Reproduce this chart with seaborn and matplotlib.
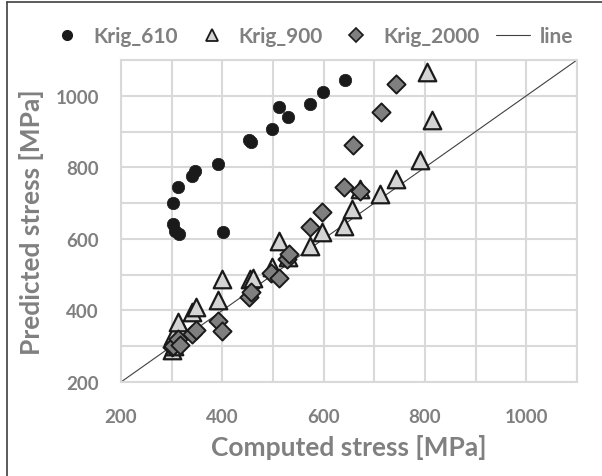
import pandas as pd
import seaborn as sns
import matplotlib.pyplot as plt
from matplotlib.lines import Line2D

# values (computed vs predicted stress, MPa)
k610_x = [302, 303, 307, 312, 315, 340, 347, 392, 401, 453, 457, 498, 512, 529, 573, 598, 643]
k610_y = [700, 643, 623, 744, 615, 776, 790, 809, 620, 877, 872, 908, 969, 940, 978, 1010, 1043]

k900_x = [300, 302, 305, 312, 340, 348, 392, 400, 455, 460, 498, 511, 530, 574, 597, 641, 656, 672, 712, 743, 791, 803, 814]
k900_y = [290, 329, 300, 367, 395, 410, 429, 488, 488, 492, 522, 595, 550, 580, 618, 635, 684, 739, 725, 767, 820, 1067, 933]

k2000_x = [300, 302, 312, 317, 340, 348, 392, 400, 453, 457, 496, 512, 527, 531, 574, 597, 641, 657, 672, 713, 743]
k2000_y = [297, 301, 320, 303, 334, 345, 371, 343, 438, 452, 506, 492, 545, 558, 632, 676, 745, 863, 733, 956, 1032]

line_x = [200, 1100]
line_y = [200, 1100]

sns.set_style("white")
plt.rcParams['font.family'] = ['Lato', 'DejaVu Sans']
grey = '#808080'

fig = plt.figure(figsize=(6.02, 4.77), dpi=100)
ax = fig.add_axes([121 / 602, 1 - 383 / 477, 456 / 602, 322 / 477])

sns.lineplot(x=line_x, y=line_y, ax=ax, color='#404040', linewidth=0.8, zorder=2)
sns.scatterplot(x=k610_x, y=k610_y, ax=ax, marker='o', s=80, color='#1a1a1a',
                edgecolor='#1a1a1a', linewidth=0.5, zorder=3)
sns.scatterplot(x=k900_x, y=k900_y, ax=ax, marker='^', s=160, color='#d4d4d4',
                edgecolor='#1a1a1a', linewidth=1.6, zorder=3)
sns.scatterplot(x=k2000_x, y=k2000_y, ax=ax, marker='D', s=85, color='#7f7f7f',
                edgecolor='#1a1a1a', linewidth=1.4, zorder=4)

ax.set_xlim(200, 1100)
ax.set_ylim(200, 1100)
ax.set_xticks(range(200, 1101, 100), minor=True)
ax.set_yticks(range(200, 1101, 100), minor=True)
ax.set_xticks([200, 400, 600, 800, 1000])
ax.set_yticks([200, 400, 600, 800, 1000])
ax.grid(True, which='both', color='#d9d9d9', linewidth=1.5)
ax.set_axisbelow(True)
ax.tick_params(which='both', length=0)
ax.tick_params(axis='x', pad=19)
ax.tick_params(axis='y', pad=16)
for lab in ax.get_xticklabels() + ax.get_yticklabels():
    lab.set_color(grey)
    lab.set_fontsize(13.5)
    lab.set_fontweight('bold')
for sp in ax.spines.values():
    sp.set_color('#d9d9d9')
    sp.set_linewidth(1.5)

ax.set_xlabel('Computed stress [MPa]', fontsize=19, fontweight='bold', color=grey, labelpad=6)
ax.set_ylabel('Predicted stress [MPa]', fontsize=19, fontweight='bold', color=grey, labelpad=8)

handles = [
    Line2D([], [], marker='o', linestyle='none', markersize=7, color='#1a1a1a'),
    Line2D([], [], marker='^', linestyle='none', markersize=9, markerfacecolor='#d4d4d4',
           markeredgecolor='#1a1a1a', markeredgewidth=1.3),
    Line2D([], [], marker='D', linestyle='none', markersize=7, markerfacecolor='#7f7f7f',
           markeredgecolor='#1a1a1a', markeredgewidth=1.2),
    Line2D([], [], color='#404040', linewidth=0.8),
]
leg = fig.legend(handles, ['Krig_610', 'Krig_900', 'Krig_2000', 'line'], loc='center',
                 bbox_to_anchor=(0.518, 1 - 37 / 477), ncol=4, frameon=False,
                 handlelength=1.6, columnspacing=0.8, handletextpad=0.5,
                 prop={'size': 15, 'weight': 'bold'})
for t in leg.get_texts():
    t.set_color(grey)

# chart-area border: only the left and top edges are visible in the reference
fig.add_artist(Line2D([7 / 602, 7 / 602], [0, 1 - 3 / 477], transform=fig.transFigure,
                      color='#404040', linewidth=1.2))
fig.add_artist(Line2D([7 / 602, 1], [1 - 3 / 477, 1 - 3 / 477], transform=fig.transFigure,
                      color='#404040', linewidth=1.2))

fig.savefig('out.png', dpi=100)
